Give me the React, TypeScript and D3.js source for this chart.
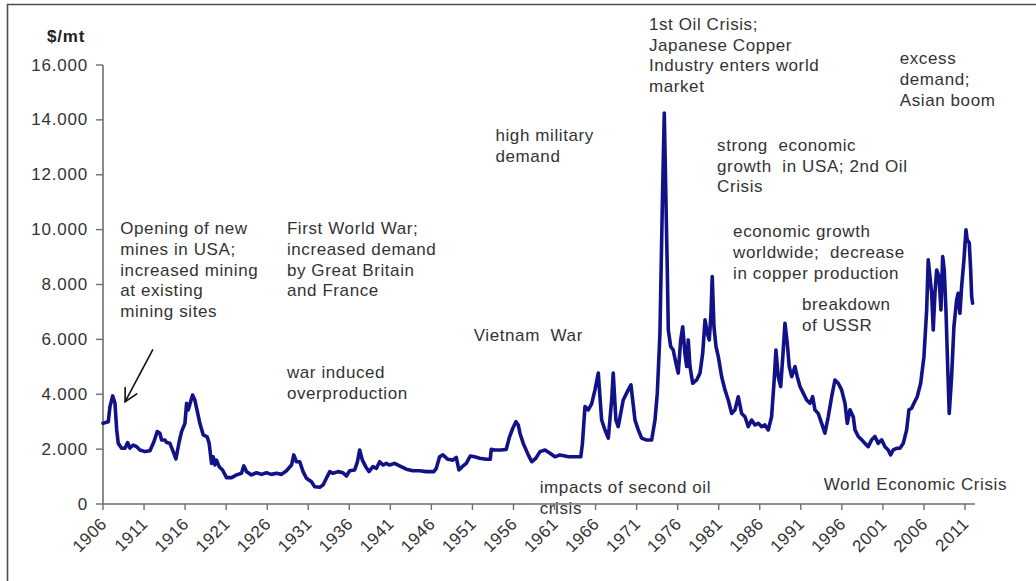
import React from "react";
import * as d3 from "d3";

const copperSeries: [number, number][] = [
  [1906.0,2940],[1906.64,3000],[1906.85,3550],[1907.18,3940],[1907.46,3670],[1907.67,2700],[1907.86,2210],[1908.27,2030],[1908.68,2030],[1909.0,2240],[1909.28,2040],[1909.69,2150],[1910.1,2090],[1910.5,1970],[1911.11,1910],[1911.72,1940],[1912.2,2270],[1912.61,2640],[1912.93,2580],[1913.14,2330],[1913.54,2330],[1913.75,2240],[1914.15,2210],[1914.55,1910],[1914.88,1640],[1915.28,2270],[1915.57,2640],[1915.98,2940],[1916.18,3670],[1916.38,3430],[1916.67,3730],[1916.91,3970],[1917.19,3790],[1917.4,3490],[1917.8,2940],[1918.2,2520],[1918.69,2450],[1918.93,2210],[1919.22,1480],[1919.42,1720],[1919.63,1420],[1919.83,1600],[1920.15,1360],[1920.56,1240],[1921.05,960],[1921.66,960],[1922.27,1060],[1922.87,1120],[1923.15,1390],[1923.48,1180],[1924.09,1060],[1924.7,1140],[1925.31,1080],[1925.91,1140],[1926.52,1080],[1927.13,1120],[1927.74,1080],[1928.35,1210],[1928.96,1420],[1929.24,1790],[1929.56,1540],[1929.97,1540],[1930.37,1180],[1930.78,940],[1931.39,810],[1931.79,630],[1932.4,610],[1932.8,690],[1933.21,940],[1933.62,1180],[1934.02,1120],[1934.63,1180],[1935.23,1140],[1935.65,1020],[1936.05,1210],[1936.66,1240],[1936.99,1540],[1937.27,1970],[1937.59,1600],[1938.0,1360],[1938.4,1180],[1938.88,1360],[1939.3,1300],[1939.7,1540],[1940.1,1420],[1940.51,1480],[1940.91,1420],[1941.52,1480],[1942.13,1390],[1942.95,1270],[1943.75,1210],[1944.56,1210],[1945.38,1180],[1946.3,1180],[1946.6,1300],[1947.0,1720],[1947.4,1790],[1948.01,1630],[1948.62,1600],[1949.03,1700],[1949.35,1240],[1949.76,1360],[1950.25,1480],[1950.73,1750],[1951.26,1720],[1951.87,1670],[1952.68,1630],[1953.17,1630],[1953.29,1990],[1953.69,1970],[1954.51,1970],[1955.12,1990],[1955.52,2450],[1955.92,2760],
  [1956.3,3000],[1956.58,2880],[1956.79,2580],[1957.19,2210],[1957.8,1790],[1958.22,1540],[1958.74,1670],[1959.23,1910],[1959.84,1970],[1960.45,1850],[1961.05,1720],[1961.66,1790],[1962.72,1720],[1964.2,1720],[1964.4,2210],[1964.71,3550],[1965.11,3430],[1965.52,3650],[1965.93,4160],[1966.33,4770],[1966.74,3060],[1967.14,2700],[1967.55,2400],[1967.96,3790],[1968.15,4770],[1968.48,3060],[1968.76,2820],[1969.37,3790],[1969.98,4160],[1970.31,4340],[1970.8,3060],[1971.2,2700],[1971.61,2400],[1972.22,2330],[1972.83,2330],[1973.24,3060],[1973.52,4040],[1973.84,6220],[1974.12,10720],[1974.37,14250],[1974.57,11080],[1974.73,8650],[1974.86,6340],[1975.15,5740],[1975.46,5610],[1975.88,5010],[1976.07,4770],[1976.37,5980],[1976.61,6460],[1976.89,5470],[1977.1,5010],[1977.29,5980],[1977.5,5010],[1977.83,4400],[1978.31,4520],[1978.72,4770],[1979.05,5490],[1979.33,6710],[1979.61,6220],[1979.85,5980],[1980.06,6950],[1980.21,8290],[1980.42,6460],[1980.67,5740],[1980.95,5370],[1981.36,4640],[1981.76,4160],[1982.16,3790],[1982.58,3300],[1982.98,3430],[1983.38,3910],[1983.79,3300],[1984.2,3180],[1984.6,2820],[1985.01,3060],[1985.42,2880],[1985.82,2940],[1986.23,2820],[1986.63,2880],[1987.04,2700],[1987.44,3180],[1987.73,4400],[1987.97,5610],[1988.25,4640],[1988.55,4280],[1988.86,5610],[1989.07,6590],[1989.35,5860],[1989.59,5010],[1989.89,4640],[1990.29,5010],[1990.57,4640],[1990.9,4280],[1991.3,4040],[1991.71,3790],[1992.12,3670],[1992.44,3910],[1992.72,3430],[1993.12,3300],[1993.54,2940],[1993.94,2580],[1994.34,3180],[1994.76,3910],[1995.16,4520],[1995.56,4400],[1995.97,4160],[1996.38,3670],[1996.66,2940],[1996.99,3430],[1997.39,3180],[1997.6,2700],[1998.0,2460],[1998.41,2340],[1998.81,2210],[1999.22,2090],[1999.63,2340],[2000.03,2460],[2000.43,2210],[2000.85,2340],[2001.25,2090],[2001.65,1970],[2001.94,1790],[2002.26,1970],[2002.67,2030],[2003.08,2030],[2003.48,2210],[2003.89,2700],[2004.17,3430],[2004.5,3490],[2004.78,3670],[2005.18,3910],[2005.6,4400],[2006.0,5370],[2006.33,7070],[2006.52,8900],[2006.73,8290],[2006.94,7680],[2007.13,6340],[2007.34,7680],[2007.55,8530],[2007.83,8290],[2008.07,7070],[2008.28,9020],[2008.47,8530],[2008.68,7070],[2008.89,5010],[2009.08,3300],[2009.37,4640],[2009.65,6460],[2009.98,7440],[2010.17,7680],[2010.38,6950],[2010.59,7920],[2010.87,8900],[2011.12,9990],[2011.27,9630],[2011.52,9510],[2011.69,8530],[2011.81,7560],[2011.93,7320],
];

const yTickValues = [0, 2000, 4000, 6000, 8000, 10000, 12000, 14000, 16000];
const xTickYears = d3.range(1906, 2012, 5);
const yAxisTitle = "$/mt";

// Annotation texts, anchored at [year, price] of the first line's baseline start
const annotationTexts: string[][] = [
  ["Opening of new", "mines in USA;", "increased mining", "at existing", "mining sites"],
  ["First World War;", "increased demand", "by Great Britain", "and France"],
  ["war induced", "overproduction"],
  ["Vietnam  War"],
  ["high military", "demand"],
  ["1st Oil Crisis;", "Japanese Copper", "Industry enters world", "market"],
  ["excess", "demand;", "Asian boom"],
  ["strong  economic", "growth  in USA; 2nd Oil", "Crisis"],
  ["economic growth", "worldwide;  decrease", "in copper production"],
  ["breakdown", "of USSR"],
  ["impacts of second oil", "crisis"],
  ["World Economic Crisis"],
];
const annotationAnchors: [number, number][] = [
  [1908.1, 9840],
  [1928.4, 9840],
  [1928.4, 4600],
  [1951.15, 5940],
  [1953.8, 13230],
  [1972.5, 17280],
  [2003.05, 16040],
  [1980.8, 12870],
  [1982.75, 9730],
  [1991.15, 7070],
  [1959.2, 400],
  [1993.8, 510],
];
const arrowFrom: [number, number] = [1912.05, 5615];
const arrowTo: [number, number] = [1908.7, 3730];

const W = 1036;
const H = 581;
const x = d3.scaleLinear().domain([1906, 2011]).range([103, 965]);
const y = d3.scaleLinear().domain([0, 16000]).range([504, 65]);
const xEnd = 2012.2;

const fmt = d3
  .formatLocale({ decimal: ",", thousands: ".", grouping: [3], currency: ["", ""] })
  .format(",");

const FONT = "'Liberation Sans', Arial, Helvetica, sans-serif";
const TEXT = "#333333";
const AXIS = "#6e6e6e";

export default function App() {
  const line = d3
    .line<[number, number]>()
    .x((d) => x(d[0]))
    .y((d) => y(d[1]));

  const x0 = x(1906);
  const y0 = y(0);

  // arrow geometry
  const ax1 = x(arrowFrom[0]);
  const ay1 = y(arrowFrom[1]);
  const ax2 = x(arrowTo[0]);
  const ay2 = y(arrowTo[1]);
  const ang = Math.atan2(ay2 - ay1, ax2 - ax1);
  const headLen = 14;
  const headA = (28 * Math.PI) / 180;
  const h1 = [ax2 - headLen * Math.cos(ang - headA), ay2 - headLen * Math.sin(ang - headA)];
  const h2 = [ax2 - headLen * Math.cos(ang + headA), ay2 - headLen * Math.sin(ang + headA)];

  return (
    <svg
      width={W}
      height={H}
      viewBox={`0 0 ${W} ${H}`}
      style={{ position: "absolute", left: 0, top: 0, background: "#ffffff" }}
      fontFamily={FONT}
    >
      <rect x={0} y={0} width={W} height={H} fill="#ffffff" />
      {/* frame */}
      <path d={`M7.5,${H} V4.5 H${W}`} fill="none" stroke="#4d4d4d" strokeWidth={1.6} />

      {/* annotations */}
      <g fill={TEXT} fontSize={17} letterSpacing={0.6}>
        {annotationTexts.map((lines, i) => {
          const [yr, v] = annotationAnchors[i];
          return (
            <text key={i} x={x(yr)} y={y(v)}>
              {lines.map((l, j) => (
                <tspan key={j} x={x(yr)} dy={j === 0 ? 0 : 20.8} style={{ whiteSpace: "pre" }}>
                  {l}
                </tspan>
              ))}
            </text>
          );
        })}
      </g>

      {/* arrow */}
      <g stroke="#111" strokeWidth={1.6} fill="none" strokeLinecap="round">
        <line x1={ax1} y1={ay1} x2={ax2} y2={ay2} />
        <polyline points={`${h1[0]},${h1[1]} ${ax2},${ay2} ${h2[0]},${h2[1]}`} />
      </g>

      {/* y axis */}
      <g>
        <line x1={x0} x2={x0} y1={y(0)} y2={y(16000)} stroke={AXIS} strokeWidth={1.6} />
        {yTickValues.map((t) => (
          <g key={t}>
            <line x1={x0 - 7} x2={x0} y1={y(t)} y2={y(t)} stroke={AXIS} strokeWidth={1.4} />
            <text
              x={88}
              y={y(t)}
              textAnchor="end"
              dominantBaseline="central"
              fontSize={17}
              letterSpacing={0.8}
              fill={TEXT}
            >
              {fmt(t)}
            </text>
          </g>
        ))}
        <text x={47} y={42} fontSize={17} fontWeight="bold" fill="#222" letterSpacing={0.8}>
          {yAxisTitle}
        </text>
      </g>

      {/* x axis */}
      <g>
        <line x1={x0} x2={x(xEnd)} y1={y0} y2={y0} stroke={AXIS} strokeWidth={1.6} />
        {xTickYears.map((yr) => (
          <g key={yr}>
            <line x1={x(yr)} x2={x(yr)} y1={y0} y2={y0 + 6} stroke={AXIS} strokeWidth={1.4} />
            <text
              transform={`translate(${x(yr) + 1},${y0 + 17}) rotate(-45)`}
              textAnchor="end"
              dominantBaseline="central"
              fontSize={17}
              letterSpacing={0.6}
              fill={TEXT}
            >
              {yr}
            </text>
          </g>
        ))}
      </g>

      {/* price line */}
      <path
        d={line(copperSeries) || ""}
        fill="none"
        stroke="#121288"
        strokeWidth={3.6}
        strokeLinejoin="round"
        strokeLinecap="round"
      />
    </svg>
  );
}
